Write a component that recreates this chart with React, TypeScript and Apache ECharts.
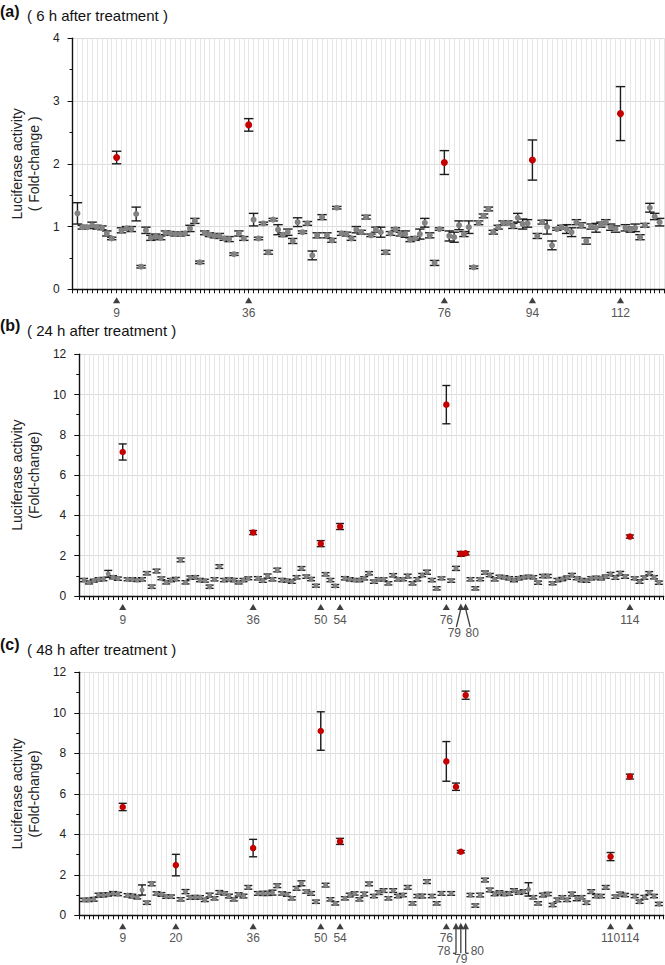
import React, { useEffect, useRef } from 'react';
import * as echarts from 'echarts';

const FONT = '"Liberation Sans", Arial, Helvetica, sans-serif';

// construct numbers 1..120 (x categories)
const constructIds = Array.from({ length: 120 }, (_, i) => i + 1);

// ---------- Panel (a): 6 h ----------
const meanA = [
  1.21, 0.99, 0.99, 1.02, 0.99, 0.98, 0.89, 0.81, 2.10, 0.94,
  0.97, 0.96, 1.20, 0.36, 0.94, 0.82, 0.84, 0.82, 0.90, 0.89,
  0.88, 0.88, 0.89, 0.97, 1.09, 0.43, 0.90, 0.87, 0.85, 0.85,
  0.81, 0.80, 0.56, 0.89, 0.81, 2.62, 1.11, 0.81, 1.05, 0.59,
  1.11, 0.95, 0.87, 0.91, 0.77, 1.07, 0.91, 1.05, 0.54, 0.86,
  1.15, 0.86, 0.78, 1.30, 0.89, 0.88, 0.81, 0.95, 0.91, 1.15,
  0.86, 0.95, 0.91, 0.59, 0.89, 0.96, 0.88, 0.88, 0.79, 0.81,
  0.88, 1.06, 0.86, 0.42, 0.96, 2.02, 0.85, 0.83, 1.02, 0.88,
  0.99, 0.35, 1.06, 1.17, 1.28, 0.91, 0.99, 1.06, 1.06, 1.01,
  1.14, 1.04, 1.05, 2.06, 0.85, 1.07, 0.99, 0.70, 0.96, 0.99,
  0.96, 0.91, 1.07, 1.02, 0.77, 1.00, 0.98, 1.03, 1.07, 0.99,
  0.96, 2.80, 0.98, 0.95, 0.98, 0.83, 1.02, 1.30, 1.16, 1.07,
];
const errA = [
  0.17, 0.03, 0.02, 0.05, 0.03, 0.03, 0.04, 0.02, 0.10, 0.04,
  0.03, 0.04, 0.11, 0.02, 0.05, 0.04, 0.04, 0.03, 0.03, 0.03,
  0.03, 0.03, 0.03, 0.05, 0.04, 0.02, 0.03, 0.03, 0.03, 0.04,
  0.03, 0.04, 0.02, 0.04, 0.03, 0.10, 0.10, 0.02, 0.02, 0.03,
  0.02, 0.08, 0.03, 0.05, 0.04, 0.07, 0.02, 0.03, 0.07, 0.04,
  0.04, 0.04, 0.03, 0.02, 0.03, 0.03, 0.03, 0.05, 0.03, 0.03,
  0.02, 0.04, 0.08, 0.03, 0.03, 0.02, 0.03, 0.05, 0.03, 0.03,
  0.08, 0.07, 0.04, 0.04, 0.02, 0.19, 0.08, 0.08, 0.07, 0.04,
  0.10, 0.02, 0.03, 0.03, 0.03, 0.03, 0.03, 0.03, 0.03, 0.04,
  0.07, 0.08, 0.06, 0.32, 0.04, 0.03, 0.11, 0.07, 0.02, 0.03,
  0.07, 0.07, 0.04, 0.04, 0.05, 0.04, 0.07, 0.04, 0.04, 0.05,
  0.05, 0.43, 0.05, 0.04, 0.06, 0.04, 0.03, 0.07, 0.05, 0.06,
];
const markA = [9, 36, 76, 94, 112];
const arrowA: number[] = [];

// ---------- Panel (b): 24 h ----------
const meanB = [
  0.79, 0.68, 0.76, 0.83, 0.84, 1.10, 0.93, 0.86, 7.15, 0.83,
  0.83, 0.79, 0.83, 1.13, 0.46, 1.24, 0.88, 0.68, 0.79, 0.84,
  1.79, 0.68, 0.91, 0.93, 0.79, 0.76, 0.46, 0.83, 1.46, 0.79,
  0.83, 0.79, 0.68, 0.79, 0.88, 3.15, 0.88, 0.76, 0.99, 0.83,
  1.29, 0.79, 0.76, 0.71, 0.93, 1.37, 0.96, 0.84, 0.51, 2.60,
  1.08, 0.79, 0.50, 3.45, 0.88, 0.83, 0.79, 0.79, 0.88, 1.13,
  0.71, 0.83, 0.83, 0.63, 1.03, 0.83, 0.83, 0.99, 0.63, 0.83,
  1.04, 1.18, 0.79, 0.38, 0.88, 9.50, 0.76, 1.37, 2.09, 2.12,
  0.83, 0.38, 0.83, 1.16, 1.04, 0.83, 0.96, 0.93, 0.88, 0.79,
  0.88, 0.93, 0.96, 0.93, 0.66, 0.99, 0.99, 0.63, 0.79, 0.84,
  0.91, 1.04, 0.88, 0.79, 0.76, 0.88, 0.91, 0.88, 0.96, 1.09,
  0.91, 1.13, 0.96, 2.95, 0.88, 0.71, 0.91, 1.13, 0.93, 0.66,
];
const errB = [
  0.08, 0.08, 0.07, 0.08, 0.08, 0.17, 0.08, 0.08, 0.40, 0.07,
  0.08, 0.07, 0.08, 0.08, 0.08, 0.09, 0.07, 0.08, 0.08, 0.08,
  0.09, 0.08, 0.08, 0.08, 0.08, 0.07, 0.08, 0.08, 0.09, 0.08,
  0.07, 0.08, 0.08, 0.08, 0.07, 0.10, 0.08, 0.08, 0.10, 0.08,
  0.09, 0.08, 0.07, 0.08, 0.08, 0.09, 0.08, 0.08, 0.07, 0.15,
  0.08, 0.08, 0.07, 0.15, 0.08, 0.08, 0.07, 0.08, 0.08, 0.08,
  0.08, 0.08, 0.07, 0.08, 0.08, 0.08, 0.07, 0.09, 0.08, 0.08,
  0.08, 0.10, 0.08, 0.08, 0.07, 0.95, 0.08, 0.10, 0.12, 0.08,
  0.08, 0.08, 0.07, 0.08, 0.08, 0.08, 0.07, 0.08, 0.08, 0.08,
  0.08, 0.08, 0.07, 0.08, 0.08, 0.08, 0.08, 0.07, 0.08, 0.08,
  0.08, 0.08, 0.07, 0.08, 0.08, 0.08, 0.07, 0.08, 0.08, 0.08,
  0.08, 0.09, 0.08, 0.08, 0.07, 0.08, 0.08, 0.08, 0.08, 0.08,
];
const markB = [9, 36, 50, 54, 76, 114];
const arrowB = [79, 80];

// ---------- Panel (c): 48 h ----------
const meanC = [
  0.76, 0.76, 0.79, 1.00, 1.00, 1.03, 1.08, 1.05, 5.35, 0.99,
  0.95, 0.89, 1.25, 0.62, 1.55, 1.08, 1.03, 0.92, 0.92, 2.48,
  0.79, 1.17, 0.87, 0.89, 0.89, 0.76, 1.00, 0.84, 1.13, 1.08,
  0.95, 0.79, 1.03, 0.95, 1.38, 3.32, 1.08, 1.08, 1.08, 1.12,
  1.46, 1.08, 1.03, 0.84, 1.33, 1.58, 1.17, 1.08, 0.67, 9.10,
  1.49, 0.79, 0.59, 3.65, 0.84, 1.00, 1.08, 0.79, 1.05, 1.55,
  0.95, 1.12, 1.22, 0.84, 1.22, 0.95, 1.00, 1.38, 0.59, 0.95,
  0.95, 1.66, 0.95, 0.59, 1.08, 7.60, 1.08, 6.35, 3.14, 10.87,
  1.00, 0.48, 1.00, 1.74, 1.25, 1.05, 1.12, 1.05, 1.08, 1.22,
  1.12, 1.17, 1.28, 0.89, 0.59, 1.00, 1.05, 0.51, 0.76, 0.89,
  0.76, 1.05, 0.84, 0.89, 0.62, 1.17, 0.95, 0.95, 1.38, 2.90,
  0.92, 1.05, 1.00, 6.85, 0.95, 0.67, 0.89, 1.12, 0.95, 0.56,
];
const errC = [
  0.08, 0.08, 0.09, 0.09, 0.09, 0.08, 0.09, 0.08, 0.18, 0.08,
  0.09, 0.08, 0.25, 0.08, 0.09, 0.08, 0.09, 0.08, 0.08, 0.53,
  0.08, 0.10, 0.08, 0.09, 0.08, 0.08, 0.09, 0.08, 0.09, 0.08,
  0.09, 0.08, 0.08, 0.09, 0.09, 0.43, 0.09, 0.10, 0.10, 0.12,
  0.09, 0.08, 0.09, 0.08, 0.09, 0.12, 0.08, 0.09, 0.08, 0.95,
  0.09, 0.08, 0.08, 0.15, 0.08, 0.09, 0.08, 0.08, 0.09, 0.09,
  0.08, 0.09, 0.09, 0.08, 0.09, 0.08, 0.08, 0.09, 0.08, 0.08,
  0.09, 0.09, 0.08, 0.08, 0.09, 0.98, 0.09, 0.18, 0.06, 0.20,
  0.08, 0.08, 0.09, 0.09, 0.09, 0.08, 0.09, 0.08, 0.09, 0.09,
  0.08, 0.09, 0.33, 0.08, 0.08, 0.09, 0.08, 0.08, 0.09, 0.08,
  0.08, 0.09, 0.12, 0.08, 0.08, 0.09, 0.08, 0.08, 0.09, 0.20,
  0.08, 0.09, 0.08, 0.12, 0.08, 0.08, 0.09, 0.09, 0.08, 0.08,
];
const markC = [9, 20, 36, 50, 54, 76, 110, 114];
const arrowC = [78, 79, 80];

const panelLetters = ['(a)', '(b)', '(c)'];
const panelTitles = ['( 6 h after treatment )', '( 24 h after treatment )', '( 48 h after treatment )'];
const yNames = ['Luciferase activity\n( Fold-change )', 'Luciferase activity\n(Fold-change)', 'Luciferase activity\n(Fold-change)'];
const yMaxes = [4, 12, 12];
const ySteps = [1, 2, 2];
const xMax = 121;

const panels = [
  { mean: meanA, err: errA, marks: markA, arrows: arrowA },
  { mean: meanB, err: errB, marks: markB, arrows: arrowB },
  { mean: meanC, err: errC, marks: markC, arrows: arrowC },
];

// layout (pixels)
const layouts = [
  { left: 65, top: 38.3, width: 599.5, height: 251, nameGap: 27, cap: 4.7, gray: 6, red: 7, letterY: 11.5, titleY: 16, lab: 24 },
  { left: 68.4, top: 354.3, width: 595.3, height: 241.7, nameGap: 29, cap: 4, gray: 5, red: 6.5, letterY: 326, titleY: 331, lab: 24 },
  { left: 68.4, top: 672.3, width: 595.3, height: 243, nameGap: 29, cap: 4, gray: 5, red: 6.5, letterY: 645, titleY: 650, lab: 22.5 },
];

const BAR = '#1c1c1c';
const GRAY = '#828282';
const RED = '#c40000';
const MARK = '#3f3f3f';
const LABEL = '#555555';
const LABEL_SIZE = 12;

function buildOption() {
  const grid: any[] = [];
  const xAxis: any[] = [];
  const yAxis: any[] = [];
  const series: any[] = [];
  const graphic: any[] = [];

  panels.forEach((p, gi) => {
    const L = layouts[gi];
    grid.push({ left: L.left, top: L.top, width: L.width, height: L.height, containLabel: false });
    xAxis.push({
      type: 'value', gridIndex: gi, min: 0, max: xMax, interval: 1,
      axisLine: { show: true, onZero: false, lineStyle: { color: '#111', width: 1.4 } },
      axisTick: { show: true, length: 4, lineStyle: { color: '#111', width: 1 } },
      axisLabel: { show: false },
      splitLine: { show: true, lineStyle: { color: '#e6e6e6', width: 1 } },
    });
    yAxis.push({
      type: 'value', gridIndex: gi, min: 0, max: yMaxes[gi], interval: ySteps[gi],
      name: yNames[gi], nameLocation: 'middle', nameRotate: 90, nameGap: L.nameGap,
      nameTextStyle: { fontFamily: FONT, fontSize: 14, color: '#222', lineHeight: 17 },
      axisLine: { show: true, lineStyle: { color: '#111', width: 1.4 } },
      axisTick: { show: true, length: 5, lineStyle: { color: '#111', width: 1 } },
      minorTick: { show: true, splitNumber: 2, length: 3, lineStyle: { color: '#111', width: 1 } },
      axisLabel: { fontFamily: FONT, fontSize: 12, color: '#222', margin: 13 },
      splitLine: { show: true, lineStyle: { color: '#dcdcdc', width: 1 } },
    });

    const hi = new Set([...p.marks, ...p.arrows]);
    const rows = constructIds.map((id, i) => [id, p.mean[i], p.err[i]]);

    series.push({
      type: 'custom', xAxisIndex: gi, yAxisIndex: gi, z: 2, clip: false,
      encode: { x: 0, y: 1 },
      data: rows,
      renderItem: (_params: any, api: any) => {
        const x = api.value(0), m = api.value(1), e = api.value(2);
        const t = api.coord([x, m + e]);
        const b = api.coord([x, m - e]);
        const c = L.cap;
        const st = { stroke: BAR, lineWidth: 1.4 };
        return {
          type: 'group',
          children: [
            { type: 'line', shape: { x1: t[0], y1: t[1], x2: b[0], y2: b[1] }, style: st },
            { type: 'line', shape: { x1: t[0] - c, y1: t[1], x2: t[0] + c, y2: t[1] }, style: st },
            { type: 'line', shape: { x1: b[0] - c, y1: b[1], x2: b[0] + c, y2: b[1] }, style: st },
          ],
        };
      },
    });
    series.push({
      type: 'scatter', xAxisIndex: gi, yAxisIndex: gi, z: 3,
      symbol: 'circle', symbolSize: L.gray,
      itemStyle: { color: GRAY, opacity: 1 },
      data: rows.filter((r) => !hi.has(r[0] as number)).map((r) => [r[0], r[1]]),
    });
    series.push({
      type: 'scatter', xAxisIndex: gi, yAxisIndex: gi, z: 4,
      symbol: 'circle', symbolSize: L.red,
      itemStyle: { color: RED, opacity: 1 },
      data: rows.filter((r) => hi.has(r[0] as number)).map((r) => [r[0], r[1]]),
    });

    // triangle markers with labels under the axis
    series.push({
      type: 'custom', xAxisIndex: gi, yAxisIndex: gi, z: 5, clip: false, silent: true,
      encode: { x: 0, y: 1 },
      data: p.marks.map((m) => [m, 0]),
      renderItem: (_params: any, api: any) => {
        const x = api.value(0);
        const o = api.coord([x, 0]);
        const cx = o[0], y0 = o[1];
        return {
          type: 'group',
          children: [
            { type: 'polygon', shape: { points: [[cx, y0 + 8], [cx - 3.6, y0 + 14], [cx + 3.6, y0 + 14]] }, style: { fill: MARK } },
            { type: 'text', x: cx, y: y0 + L.lab, style: { text: String(x), fill: LABEL, fontSize: LABEL_SIZE, fontFamily: FONT, align: 'center', verticalAlign: 'middle' } },
          ],
        };
      },
    });

    if (p.arrows.length) {
      const n = p.arrows.length;
      series.push({
        type: 'custom', xAxisIndex: gi, yAxisIndex: gi, z: 5, clip: false, silent: true,
        encode: { x: 0, y: 1 },
        data: p.arrows.map((m) => [m, 0]),
        renderItem: (params: any, api: any) => {
          const x = api.value(0);
          const o = api.coord([x, 0]);
          const cx = o[0], y0 = o[1];
          const k = params.dataIndex;
          const head = { type: 'polygon', shape: { points: [[cx, y0 + 7.5], [cx - 3.3, y0 + 14], [cx + 3.3, y0 + 14]] }, style: { fill: MARK } };
          const ls = { stroke: MARK, lineWidth: 1.3 };
          const txt = (tx: number, ty: number, align: string) => ({
            type: 'text', x: tx, y: ty,
            style: { text: String(x), fill: LABEL, fontSize: LABEL_SIZE, fontFamily: FONT, align, verticalAlign: 'middle' },
          });
          const children: any[] = [head];
          if (n === 2) {
            const dir = k === 0 ? -1 : 1;
            children.push({ type: 'line', shape: { x1: cx, y1: y0 + 13, x2: cx + dir * 4.5, y2: y0 + 31 }, style: ls });
            children.push(txt(cx + dir * 6.5, y0 + 36.5, 'center'));
          } else {
            children.push({ type: 'line', shape: { x1: cx, y1: y0 + 13, x2: cx, y2: y0 + 38 }, style: ls });
            if (k === 0) {
              children.push({ type: 'line', shape: { x1: cx, y1: y0 + 38, x2: cx - 3, y2: y0 + 38 }, style: ls });
              children.push(txt(cx - 5.5, y0 + 35.5, 'right'));
            } else if (k === n - 1) {
              children.push({ type: 'line', shape: { x1: cx, y1: y0 + 38, x2: cx + 3, y2: y0 + 38 }, style: ls });
              children.push(txt(cx + 5, y0 + 35.5, 'left'));
            } else {
              children.push(txt(cx, y0 + 43.3, 'center'));
            }
          }
          return { type: 'group', children };
        },
      });
    }

    graphic.push({
      type: 'text', left: 0, top: L.letterY - 8.5,
      style: { text: panelLetters[gi], fill: '#111', fontSize: 16, fontWeight: 'bold', fontFamily: FONT },
    });
    graphic.push({
      type: 'text', left: 27, top: L.titleY - 8,
      style: { text: panelTitles[gi], fill: '#111', fontSize: 15, fontFamily: FONT },
    });
  });

  return { animation: false, backgroundColor: '#ffffff', grid, xAxis, yAxis, series, graphic };
}

export default function App() {
  const ref = useRef<HTMLDivElement>(null);
  useEffect(() => {
    if (!ref.current) return;
    const chart = echarts.init(ref.current, null, { renderer: 'svg' });
    chart.setOption(buildOption() as any);
    return () => chart.dispose();
  }, []);
  return (
    <div
      ref={ref}
      style={{ position: 'absolute', left: 0, top: 0, width: 665, height: 965, background: '#fff' }}
    />
  );
}
